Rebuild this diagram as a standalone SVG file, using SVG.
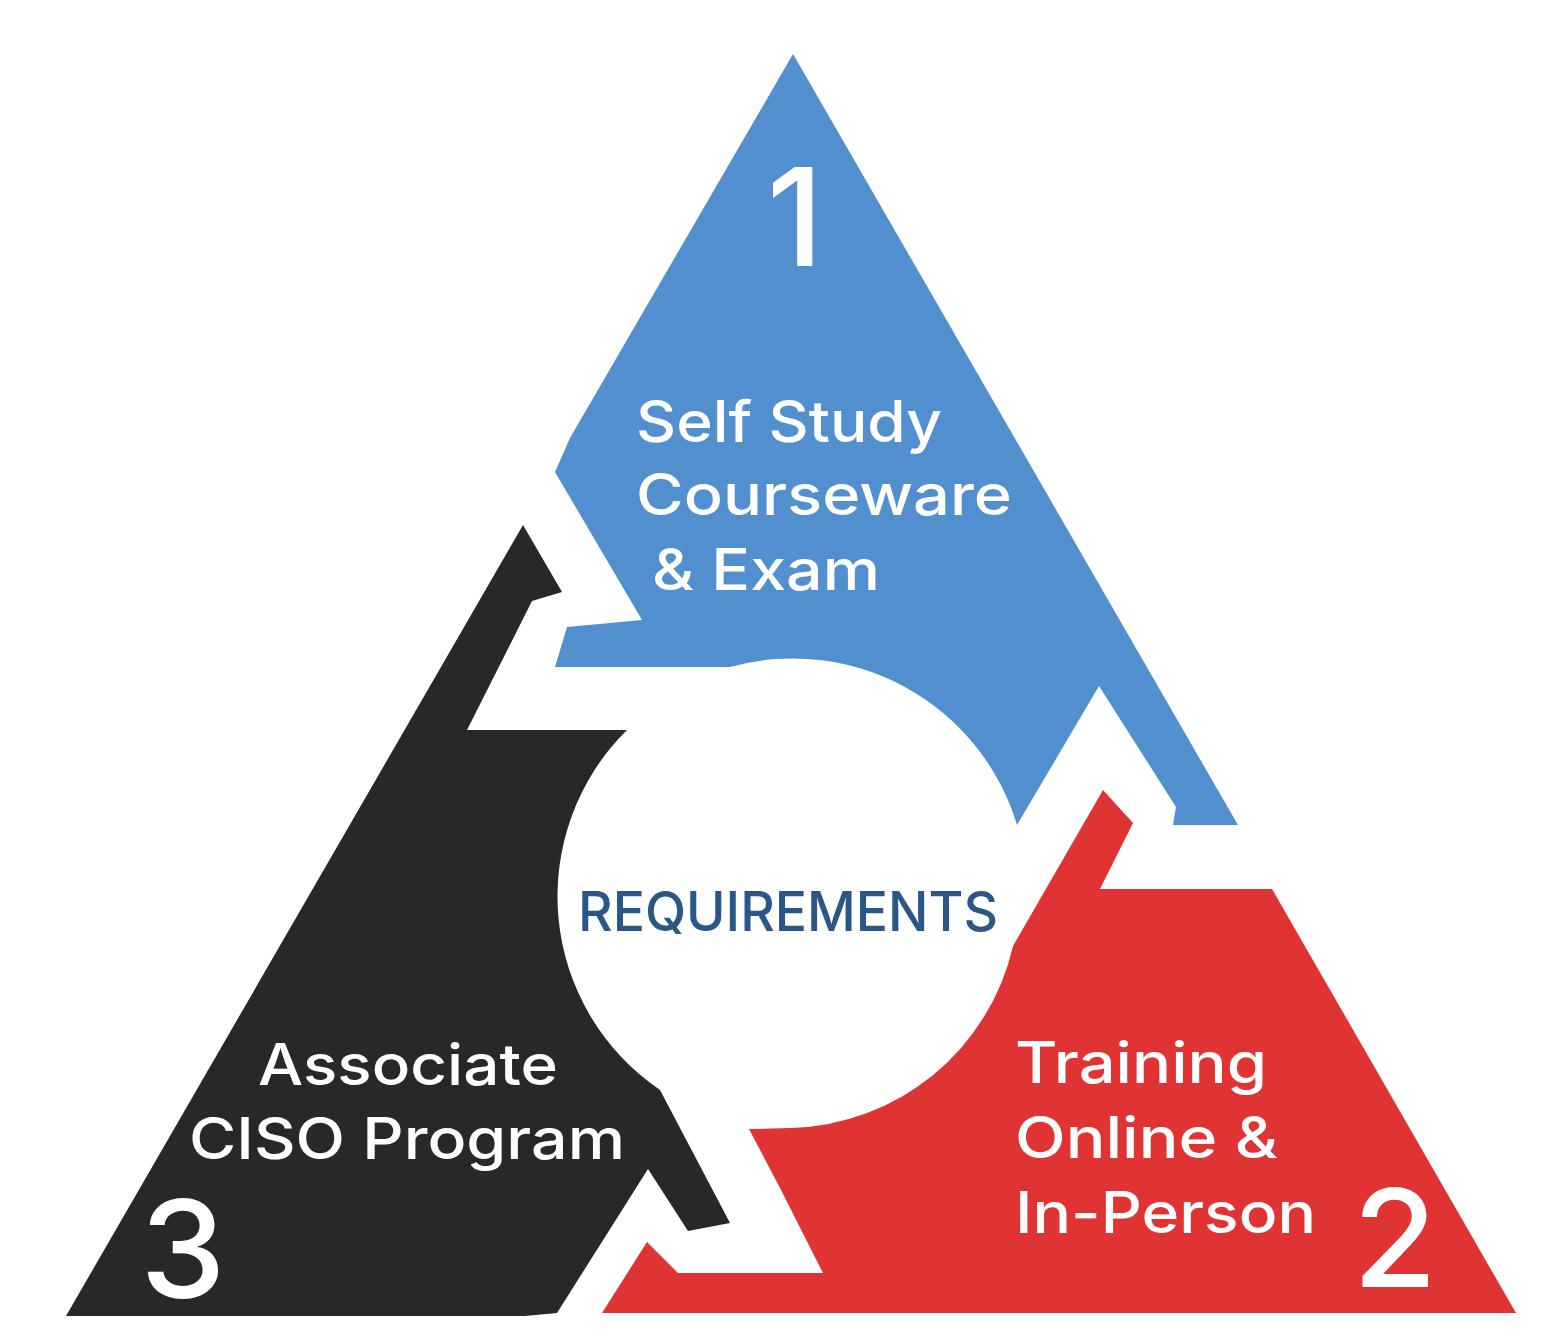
<svg xmlns="http://www.w3.org/2000/svg" width="1563" height="1344" viewBox="0 0 1563 1344">
<style>
.lbl{font-family:Inter,"Noto Sans",sans-serif;font-weight:500;font-size:57px;fill:#ffffff}
.num{font-family:Inter,"Noto Sans",sans-serif;font-weight:500;font-size:136px;fill:#ffffff}
.req{font-family:Inter,"Noto Sans",sans-serif;font-weight:500;font-size:55px;fill:#2a5788}
</style>
<rect width="1563" height="1344" fill="#ffffff"/>
<g id="node-1">
<path d="M793,54 L1238,825 L1173,825 L1176,807 L1099,686 L1017,825 A234,234 0 0 0 730,667 L555,667 L567,627 L642,620 L555,472 L570,438 Z" fill="#528fcf"/>
<text class="num" x="795" y="266" text-anchor="middle">1</text>
<text class="lbl" x="636" y="442" textLength="306" lengthAdjust="spacingAndGlyphs">Self Study</text>
<text class="lbl" x="636" y="515" textLength="376" lengthAdjust="spacingAndGlyphs">Courseware</text>
<text class="lbl" x="652" y="590" textLength="228" lengthAdjust="spacingAndGlyphs">&amp; Exam</text>
</g>
<g id="node-2">
<path d="M1103,790 L1133,823 L1100,889 L1272,889 L1516,1313 L602,1313 L647,1242 L678,1273 L823,1273 L780,1188 L749,1129 L790,1128 A234,234 0 0 0 1013,946 Z" fill="#df3334"/>
<text class="lbl" x="1015" y="1083" textLength="252" lengthAdjust="spacingAndGlyphs">Training</text>
<text class="lbl" x="1015" y="1158" textLength="263" lengthAdjust="spacingAndGlyphs">Online &amp;</text>
<text class="lbl" x="1015" y="1233" textLength="301" lengthAdjust="spacingAndGlyphs">In-Person</text>
<text class="num" x="1395" y="1287" text-anchor="middle">2</text>
</g>
<g id="node-3">
<path d="M523,525 L562,592 L532,601 L467,730 L627,730 A234,234 0 0 0 660,1090 L730,1223 L688,1231 L648,1169 L557,1313 L525,1316 L66,1316 Z" fill="#282828"/>
<text class="lbl" x="258" y="1085" textLength="300" lengthAdjust="spacingAndGlyphs">Associate</text>
<text class="lbl" x="189" y="1159" textLength="436" lengthAdjust="spacingAndGlyphs">CISO Program</text>
<text class="num" x="183" y="1298" text-anchor="middle">3</text>
</g>
<g id="center">
<text class="req" x="578" y="931" textLength="420" lengthAdjust="spacingAndGlyphs">REQUIREMENTS</text>
</g>
<g id="connectors"></g>
</svg>
